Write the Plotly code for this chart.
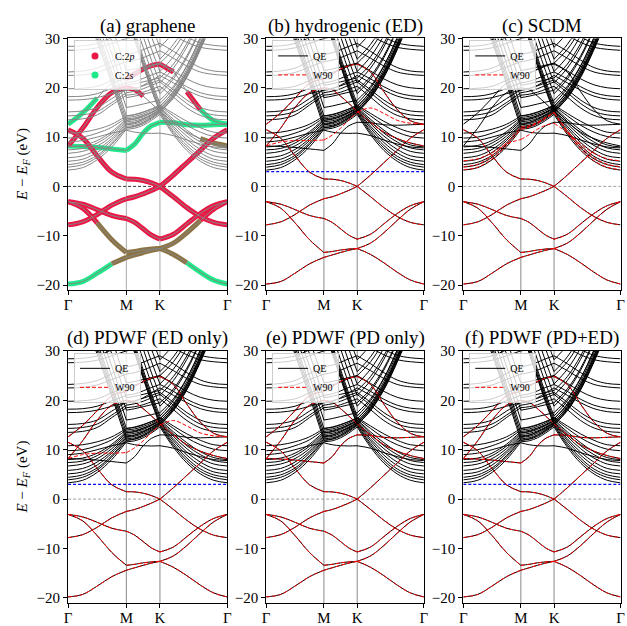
import plotly.graph_objects as go

# ---------------- k-path and reference values ----------------
K_PATH = [0.0, 0.25, 0.5, 0.75, 1.0, 1.144, 1.289, 1.433, 1.577, 1.808, 2.039, 2.270, 2.501, 2.732]
HSYM_POS = [0.0, 1.0, 1.577, 2.732]
HSYM_LABELS = ["Γ", "M", "K", "Γ"]
E_TICKS = [-20, -10, 0, 10, 20, 30]
E_RANGE = [-21, 30]
E_FERMI = 0.0
DIS_FROZ_MAX = 3.0

PANEL_TITLES = ["(a) graphene", "(b) hydrogenic (ED)", "(c) SCDM",
                "(d) PDWF (ED only)", "(e) PDWF (PD only)", "(f) PDWF (PD+ED)"]
FROZEN_PANELS = [2, 4, 6]

# ---------------- bands (eV) at K_PATH ----------------
SIGMA3 = [-19.8, -19.3, -17.6, -15.7, -14.4, -13.9, -13.4, -12.95, -12.6, -13.8, -15.5, -17.4, -19.0, -19.8]
SIGMA2 = [-3.1, -4.4, -7.4, -10.8, -13.4, -13.2, -12.9, -12.7, -12.6, -11.5, -9.4, -6.9, -4.6, -3.1]
SIGMA1 = [-3.1, -3.6, -4.7, -5.9, -6.5, -7.3, -8.6, -9.9, -10.7, -9.7, -7.6, -5.5, -3.9, -3.1]
PI_B = [-7.8, -7.2, -5.7, -3.8, -2.5, -2.1, -1.5, -0.8, 0.0, -2.1, -4.3, -6.1, -7.3, -7.8]
PISTAR = [11.5, 9.8, 6.2, 2.9, 1.5, 1.45, 1.2, 0.7, 0.0, 2.3, 4.8, 7.3, 9.8, 11.5]
BS = [8.2, 8.1, 7.9, 7.6, 7.3, 8.6, 10.8, 12.3, 13.0, 12.9, 12.5, 12.4, 12.5, 12.6]
U1 = [8.2, 11.8, 16.0, 19.0, 20.0, 19.6, 18.3, 16.8, 15.2, 13.0, 11.0, 9.7, 8.8, 8.2]
U2 = [12.6, 14.9, 17.9, 20.9, 21.8, 22.8, 23.8, 24.5, 24.8, 23.2, 19.2, 15.6, 13.3, 12.6]
X1 = [9.0, 9.3, 10.0, 10.8, 11.4, 11.0, 10.8, 10.75, 10.8, 10.3, 9.4, 8.6, 8.0, 7.8]

# Gamma-centred vacuum-like bands
A1 = [3.3, 3.8, 5.4, 8.0, 11.6, 11.8, 12.4, 13.4, 14.6, 10.5, 7.3, 5.1, 3.8, 3.3]
A2 = [3.9, 4.4, 5.9, 8.5, 11.9, 12.1, 12.7, 13.7, 14.9, 10.9, 7.8, 5.6, 4.4, 3.9]
A3 = [4.4, 4.9, 6.3, 8.8, 12.2, 12.4, 13.0, 14.0, 15.1, 11.3, 8.3, 6.1, 4.9, 4.4]
A4 = [5.1, 5.5, 6.9, 9.3, 12.5, 12.7, 13.3, 14.2, 15.3, 11.8, 8.9, 6.8, 5.5, 5.1]
A5 = [5.8, 6.2, 7.5, 9.7, 12.8, 13.0, 13.6, 14.4, 15.5, 12.2, 9.5, 7.5, 6.2, 5.8]
A6 = [6.7, 7.1, 8.2, 10.2, 13.1, 13.3, 13.8, 14.6, 15.7, 12.7, 10.2, 8.3, 7.1, 6.7]
A7 = [7.4, 7.7, 8.8, 10.7, 13.4, 13.6, 14.1, 14.9, 15.9, 13.2, 10.8, 9.0, 7.8, 7.4]
A8 = [8.0, 8.3, 9.3, 11.1, 13.7, 13.9, 14.4, 15.1, 16.1, 13.6, 11.4, 9.6, 8.4, 8.0]
A9 = [9.8, 10.0, 10.8, 12.0, 14.0, 14.2, 14.7, 15.4, 16.3, 14.3, 12.4, 11.0, 10.1, 9.8]
A10 = [10.8, 11.0, 11.6, 12.6, 14.3, 14.5, 15.0, 15.7, 16.5, 14.8, 13.2, 11.9, 11.0, 10.8]

# bands falling into M from the upper left
B1 = [45.3, 37.3, 29.3, 20.8, 11.9, 12.2, 12.9, 13.9, 15.1, 17.9, 22.1, 27.7, 34.1, 41.6]
B2 = [46.0, 38.0, 30.0, 21.5, 12.6, 12.9, 13.6, 14.5, 15.4, 18.2, 22.4, 28.0, 34.4, 41.9]
B3 = [46.8, 38.8, 30.8, 22.3, 13.4, 13.7, 14.3, 15.0, 15.8, 18.6, 22.8, 28.4, 34.8, 42.3]
B4 = [47.7, 39.7, 31.7, 23.2, 14.3, 14.6, 15.1, 15.7, 16.3, 19.1, 23.3, 28.9, 35.3, 42.8]
B5 = [49.4, 41.4, 33.4, 24.9, 16.0, 16.3, 16.7, 17.1, 17.5, 20.3, 24.5, 30.1, 36.5, 44.0]
B6 = [51.4, 43.4, 35.4, 26.9, 18.0, 18.3, 18.7, 19.1, 19.5, 22.3, 26.5, 32.1, 38.5, 46.0]
B7 = [53.9, 45.9, 37.9, 29.4, 20.5, 20.8, 21.2, 21.6, 22.0, 24.8, 29.0, 34.6, 41.0, 48.5]
B8 = [56.9, 48.9, 40.9, 32.4, 23.5, 23.8, 24.2, 24.6, 25.0, 27.8, 32.0, 37.6, 44.0, 51.5]

# V-shaped bands with their minimum at K
V1 = [51.0, 46.0, 42.0, 38.0, 35.0, 29.5, 24.4, 19.5, 15.0, 18.0, 22.3, 28.0, 34.5, 42.0]
V2 = [51.3, 46.3, 42.3, 38.3, 35.3, 29.8, 24.7, 19.8, 15.3, 18.4, 22.8, 28.6, 35.1, 42.6]
V3 = [51.7, 46.7, 42.7, 38.7, 35.7, 30.2, 25.1, 20.2, 15.7, 18.8, 23.2, 29.0, 35.6, 43.0]
V4 = [52.2, 47.2, 43.2, 39.2, 36.2, 30.7, 25.6, 20.7, 16.2, 19.3, 23.8, 29.6, 36.2, 43.6]
V5 = [52.8, 47.8, 43.8, 39.8, 36.8, 31.3, 26.2, 21.3, 16.8, 19.9, 24.4, 30.2, 36.8, 44.2]
V6 = [54.8, 49.8, 45.8, 41.8, 38.8, 33.3, 28.2, 23.3, 18.8, 21.8, 26.1, 31.8, 38.3, 45.8]
V7 = [57.0, 52.0, 48.0, 44.0, 41.0, 35.5, 30.4, 25.5, 21.0, 24.0, 28.3, 34.0, 40.5, 48.0]
V8 = [59.3, 54.3, 50.3, 46.3, 43.3, 37.8, 32.7, 27.8, 23.3, 26.3, 30.6, 36.3, 42.8, 50.3]
V9 = [61.8, 56.8, 52.8, 48.8, 45.8, 40.3, 35.2, 30.3, 25.8, 28.8, 33.1, 38.8, 45.3, 52.8]
V10 = [64.2, 59.2, 55.2, 51.2, 48.2, 42.7, 37.6, 32.7, 28.2, 31.2, 35.5, 41.2, 47.7, 55.2]

# flatter higher bands
H1 = [13.5, 13.7, 14.5, 16.5, 18.5, 18.7, 19.1, 19.7, 20.3, 18.1, 15.9, 14.4, 13.7, 13.5]
H2 = [14.3, 14.5, 15.2, 17.0, 19.0, 19.3, 19.8, 20.5, 21.2, 19.0, 16.8, 15.2, 14.5, 14.3]
H3 = [15.1, 15.3, 16.0, 17.8, 19.6, 19.9, 20.4, 21.0, 21.6, 19.6, 17.5, 16.0, 15.3, 15.1]
H4 = [17.5, 17.6, 18.0, 18.8, 19.5, 19.8, 20.5, 21.5, 22.5, 21.0, 19.5, 18.3, 17.7, 17.5]
H5 = [18.2, 18.3, 18.8, 19.9, 21.0, 21.3, 21.9, 22.6, 23.2, 21.8, 20.2, 19.0, 18.4, 18.2]
H6 = [19.8, 19.9, 20.3, 21.5, 22.8, 23.1, 23.7, 24.4, 25.0, 23.4, 21.8, 20.6, 20.0, 19.8]
H7 = [22.5, 22.6, 23.1, 24.2, 25.3, 25.6, 26.1, 26.8, 27.5, 26.0, 24.4, 23.2, 22.7, 22.5]
H8 = [23.2, 23.4, 24.0, 25.4, 26.8, 27.1, 27.7, 28.4, 29.0, 27.4, 25.6, 24.1, 23.4, 23.2]
H9 = [27.6, 27.7, 28.1, 29.0, 30.0, 30.3, 30.8, 31.4, 32.0, 30.6, 29.2, 28.2, 27.8, 27.6]
H10 = [28.4, 28.5, 29.0, 30.2, 31.5, 31.8, 32.3, 33.0, 33.6, 31.9, 30.3, 29.1, 28.6, 28.4]

# Wannier-interpolated bands that differ from QE
W_S_ED = [8.2, 9.0, 9.3, 9.3, 9.4, 10.4, 11.8, 13.5, 15.0, 15.9, 14.8, 13.4, 12.8, 12.6]
W_C1 = [3.4, 3.9, 5.6, 8.3, 11.6, 12.0, 12.8, 13.8, 15.0, 11.0, 7.6, 5.2, 3.9, 3.4]
W_C2 = [4.0, 4.5, 6.2, 8.9, 12.0, 12.3, 13.0, 14.0, 15.0, 11.3, 8.1, 5.8, 4.5, 4.0]
W_C3 = [5.2, 5.6, 6.8, 8.6, 9.5, 10.5, 11.6, 12.4, 12.8, 10.9, 8.6, 6.7, 5.6, 5.2]

VALENCE = [SIGMA3, SIGMA2, SIGMA1, PI_B, PISTAR]
QE_BANDS = VALENCE + [BS, U1, U2, X1,
                      A1, A2, A3, A4, A5, A6, A7, A8, A9, A10,
                      B1, B2, B3, B4, B5, B6, B7, B8,
                      V1, V2, V3, V4, V5, V6, V7, V8, V9, V10,
                      H1, H2, H3, H4, H5, H6, H7, H8, H9, H10]
W90_BANDS = {
    2: VALENCE + [W_S_ED, U1, U2],
    3: VALENCE + [W_C1, W_C2, W_C3],
    4: VALENCE + [W_S_ED, U1, U2],
    5: VALENCE + [BS, U1, U2],
    6: VALENCE + [BS, U1, U2],
}

# ---------------- styles ----------------
RED = "#eb1745"
GREEN = "#1fea8a"
OLIVE = "#8c7444"
FONT = "Liberation Serif"
# projection colouring of panel (a): (band, first index, last index, colour)
PROJ_A = [
    (SIGMA3, 0, 3, GREEN), (SIGMA3, 3, 10, OLIVE), (SIGMA3, 10, 13, GREEN),
    (SIGMA2, 0, 2, RED), (SIGMA2, 2, 11, OLIVE), (SIGMA2, 11, 13, RED),
    (SIGMA1, 0, 13, RED), (PI_B, 0, 13, RED), (PISTAR, 0, 13, RED),
    (BS, 0, 13, GREEN),
    (U1, 0, 6, RED), (U1, 11, 13, OLIVE),
    (U2, 0, 2, GREEN), (U2, 4, 9, RED), (U2, 10, 11, RED), (U2, 11, 13, GREEN),
]

SEGS = [(0, 4), (4, 8), (8, 13)]


def band_xy(bands, i0=0, i1=13):
    xs, ys = [], []
    for b in bands:
        for s0, s1 in SEGS:
            a, c = max(i0, s0), min(i1, s1)
            if c > a:
                xs += K_PATH[a:c + 1] + [None]
                ys += b[a:c + 1] + [None]
    return xs, ys


def axn(i):
    return ("x" if i == 1 else f"x{i}", "y" if i == 1 else f"y{i}")


COL_DOM = [(65 / 627, 226.5 / 627), (266 / 627, 426 / 627), (466 / 627, 625.5 / 627)]
ROW_DOM = [(1 - 287 / 626, 1 - 31 / 626), (1 - 605.5 / 626, 1 - 349 / 626)]

fig = go.Figure()

# ---- panel (a): projections + grey QE bands
for col in [OLIVE, GREEN, RED]:
    xs, ys = [], []
    for band, i0, i1, c in PROJ_A:
        if c == col:
            x, y = band_xy([band], i0, i1)
            xs += x
            ys += y
    fig.add_trace(go.Scatter(x=xs, y=ys, mode="lines", line=dict(color=col, width=5, shape="spline"),
                             showlegend=False, hoverinfo="skip", xaxis="x", yaxis="y"))
x, y = band_xy(QE_BANDS)
fig.add_trace(go.Scatter(x=x, y=y, mode="lines", line=dict(color="#858585", width=1, shape="spline"),
                         showlegend=False, hoverinfo="skip", xaxis="x", yaxis="y"))
fig.add_trace(go.Scatter(x=[None], y=[None], mode="markers", marker=dict(color=RED, size=7),
                         name="C:2<i>p</i>", legend="legend", xaxis="x", yaxis="y"))
fig.add_trace(go.Scatter(x=[None], y=[None], mode="markers", marker=dict(color=GREEN, size=7),
                         name="C:2<i>s</i>", legend="legend", xaxis="x", yaxis="y"))

# ---- panels (b)-(f)
for i in range(2, 7):
    xa, ya = axn(i)
    x, y = band_xy(QE_BANDS)
    fig.add_trace(go.Scatter(x=x, y=y, mode="lines", line=dict(color="black", width=1, shape="spline"),
                             name="QE", legend=f"legend{i}", hoverinfo="skip", xaxis=xa, yaxis=ya))
    if i in FROZEN_PANELS:
        fig.add_trace(go.Scatter(x=[HSYM_POS[0], HSYM_POS[-1]], y=[DIS_FROZ_MAX, DIS_FROZ_MAX],
                                 mode="lines", line=dict(color="blue", width=1.2, dash="3px,2px"),
                                 showlegend=False, hoverinfo="skip", xaxis=xa, yaxis=ya))
    x, y = band_xy(W90_BANDS[i])
    fig.add_trace(go.Scatter(x=x, y=y, mode="lines",
                             line=dict(color="red", width=1, shape="spline", dash="4px,2px"),
                             name="W90", legend=f"legend{i}", hoverinfo="skip", xaxis=xa, yaxis=ya))

layout = dict(width=627, height=626, margin=dict(l=0, r=0, t=0, b=0), autosize=False,
              paper_bgcolor="white", plot_bgcolor="white",
              font=dict(family=FONT, color="black", size=14), showlegend=True)
shapes, annotations = [], []
legend_style = dict(bgcolor="rgba(255,255,255,0.8)", bordercolor="#cccccc", borderwidth=1,
                    font=dict(family=FONT, size=10, color="black"), itemwidth=30,
                    tracegroupgap=0, xanchor="left", yanchor="top")

for i in range(1, 7):
    col, row = (i - 1) % 3, (i - 1) // 3
    xa, ya = axn(i)
    xk = "xaxis" if i == 1 else f"xaxis{i}"
    yk = "yaxis" if i == 1 else f"yaxis{i}"
    common = dict(showline=True, mirror=True, linecolor="black", linewidth=1, ticks="outside",
                  ticklen=4, tickwidth=1, tickcolor="black", showgrid=False, zeroline=False,
                  tickfont=dict(family=FONT, size=15, color="black"))
    layout[xk] = dict(domain=list(COL_DOM[col]), range=[HSYM_POS[0], HSYM_POS[-1]], anchor=ya,
                      tickmode="array", tickvals=HSYM_POS, ticktext=HSYM_LABELS,
                      ticklabelstandoff=-3, **common)
    layout[yk] = dict(domain=list(ROW_DOM[row]), range=E_RANGE, anchor=xa,
                      tickmode="array", tickvals=E_TICKS, **common)
    vcol = "#aaaaaa" if i == 1 else "#8a8a8a"
    for kx in HSYM_POS[1:3]:
        shapes.append(dict(type="line", xref=xa, yref=f"{ya} domain", x0=kx, x1=kx, y0=0, y1=1,
                           line=dict(color=vcol, width=1), layer="below"))
    shapes.append(dict(type="line", xref=f"{xa} domain", yref=ya, x0=0, x1=1, y0=E_FERMI, y1=E_FERMI,
                       line=dict(color="black" if i == 1 else "#888888", width=0.8, dash="3px,2px"),
                       layer="below"))
    xc = (COL_DOM[col][0] + COL_DOM[col][1]) / 2
    ty = 1 - (18 if row == 0 else 336) / 626
    annotations.append(dict(text=PANEL_TITLES[i - 1], x=xc, y=ty, xref="paper", yref="paper",
                            showarrow=False, xanchor="center", yanchor="middle",
                            font=dict(family=FONT, size=19, color="black")))
    lkey = "legend" if i == 1 else f"legend{i}"
    lx = (COL_DOM[col][0] * 627 + 6) / 627
    ly = 1 - ((33 if row == 0 else 351)) / 626
    layout[lkey] = dict(x=lx, y=ly, **legend_style)

for row in range(2):
    yc = (ROW_DOM[row][0] + ROW_DOM[row][1]) / 2
    annotations.append(dict(text="<i>E</i> − <i>E</i><sub><i>F</i></sub> (eV)", x=19 / 627, y=yc,
                            xref="paper", yref="paper", showarrow=False, textangle=-90,
                            xanchor="center", yanchor="middle",
                            font=dict(family=FONT, size=15, color="black")))

layout["shapes"] = shapes
layout["annotations"] = annotations
fig.update_layout(**layout)
fig.write_html("out.html", config={"responsive": False, "displayModeBar": False},
               post_script="document.body.style.margin='0px';document.body.style.overflow='hidden';")
